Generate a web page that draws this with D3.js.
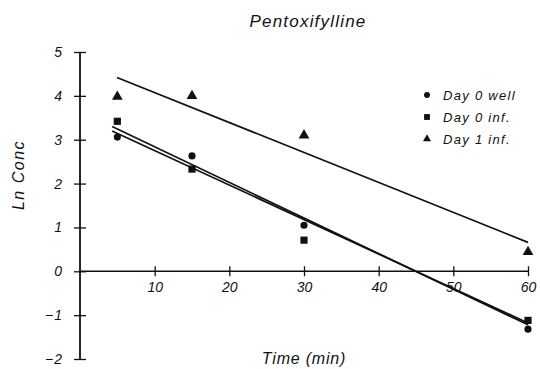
<!DOCTYPE html>
<html lang="en">
<head>
  <meta charset="UTF-8">
  <title>Pentoxifylline</title>
  <style>
    body { margin: 0; background: #fff; }
    text { font-family: "Liberation Sans", Arial, sans-serif; font-style: italic; fill: #111; }
  </style>
</head>
<body>
  <script src="https://d3js.org/d3.v7.min.js"></script>
  <script>
    const times = [5, 15, 30, 60];
    const day0Well = [3.06, 2.63, 1.05, -1.32];
    const day0Inf = [3.42, 2.33, 0.71, -1.12];
    const day1Inf = [3.98, 4.0, 3.1, 0.44];
    // fitted lines as [time, ln conc] endpoints
    const fitWell = [[4.3, 3.2], [60, -1.18]];
    const fitInf = [[4.3, 3.3], [60, -1.22]];
    const fitDay1 = [[4.95, 4.42], [60, 0.66]];
    const xTicks = [10, 20, 30, 40, 50, 60];
    const yTicks = [-2, -1, 0, 1, 2, 3, 4, 5];
    const seriesNames = ["Day 0 well", "Day 0 inf.", "Day 1 inf."];

    const width = 540;
    const height = 369;

    const svg = d3.select("body").append("svg").attr("width", width).attr("height", height);

    const xScale = d3.scaleLinear().domain([0, 60]).range([80, 528]);
    const yScale = d3.scaleLinear().domain([-2, 5]).range([359, 52]);

    // y axis
    const axisY = d3.axisLeft(yScale).tickValues(yTicks).tickSize(6).tickFormat(d3.format("d"));
    const gy = svg.append("g")
      .attr("transform", "translate(" + xScale(0) + ",0)")
      .call(axisY);
    gy.select(".domain").remove();
    gy.selectAll(".tick line").attr("x1", 6).attr("x2", -6).attr("stroke", "#111").attr("stroke-width", 1.3);
    gy.selectAll(".tick text").attr("x", -17).attr("font-size", 14).attr("font-family", "Liberation Sans")
      .style("font-style", "italic").style("letter-spacing", "1px").attr("fill", "#111");
    svg.append("line")
      .attr("x1", xScale(0)).attr("x2", xScale(0))
      .attr("y1", yScale(-2)).attr("y2", yScale(5))
      .attr("stroke", "#111").attr("stroke-width", 1.8);

    // x axis on y = 0
    const axisX = d3.axisBottom(xScale).tickValues(xTicks).tickSize(5).tickFormat(d3.format("d"));
    const gx = svg.append("g")
      .attr("transform", "translate(0," + yScale(0) + ")")
      .call(axisX);
    gx.select(".domain").remove();
    gx.selectAll(".tick line").attr("y1", -5).attr("y2", 5).attr("stroke", "#111").attr("stroke-width", 1.3);
    gx.selectAll(".tick text").attr("y", 11).attr("font-size", 14).attr("font-family", "Liberation Sans")
      .style("font-style", "italic").attr("fill", "#111");
    svg.append("line")
      .attr("x1", xScale(0)).attr("x2", xScale(60))
      .attr("y1", yScale(0)).attr("y2", yScale(0))
      .attr("stroke", "#111").attr("stroke-width", 1.4);

    // fitted lines
    const line = d3.line().x(d => xScale(d[0])).y(d => yScale(d[1]));
    [fitDay1, fitInf, fitWell].forEach(function(f) {
      svg.append("path").attr("d", line(f))
        .attr("fill", "none").attr("stroke", "#111").attr("stroke-width", 1.7);
    });

    // markers
    const circleSym = d3.symbol().type(d3.symbolCircle).size(40);
    const squareSym = d3.symbol().type(d3.symbolSquare).size(52);
    const triSym = d3.symbol().type(d3.symbolTriangle).size(50);
    const sets = [[day0Well, circleSym], [day0Inf, squareSym], [day1Inf, triSym]];
    sets.forEach(function(s) {
      svg.append("g").selectAll("path")
        .data(s[0])
        .enter()
        .append("path")
        .attr("d", s[1])
        .attr("transform", function(d, i) { return "translate(" + xScale(times[i]) + "," + yScale(d) + ")"; })
        .attr("fill", "#111");
    });

    // legend
    const legendSyms = [d3.symbol().type(d3.symbolCircle).size(28), d3.symbol().type(d3.symbolSquare).size(34), d3.symbol().type(d3.symbolTriangle).size(28)];
    const legend = svg.append("g").attr("transform", "translate(427,95)");
    seriesNames.forEach(function(name, i) {
      legend.append("path").attr("d", legendSyms[i]).attr("transform", "translate(0," + (i * 22) + ")").attr("fill", "#111");
      legend.append("text").attr("x", 16).attr("y", i * 22 + 4.5).attr("font-size", 13)
        .style("letter-spacing", "1.3px").text(name);
    });

    // title and axis labels
    svg.append("text").attr("x", 308).attr("y", 27).attr("text-anchor", "middle").attr("font-size", 17)
      .style("letter-spacing", "1.2px").text("Pentoxifylline");
    svg.append("text").attr("x", 304).attr("y", 364).attr("text-anchor", "middle").attr("font-size", 16)
      .style("letter-spacing", "0.8px").text("Time (min)");
    svg.append("text")
      .attr("transform", "translate(24,175) rotate(-90)")
      .attr("text-anchor", "middle").attr("font-size", 16)
      .style("letter-spacing", "1.5px").text("Ln Conc");
  </script>
</body>
</html>
